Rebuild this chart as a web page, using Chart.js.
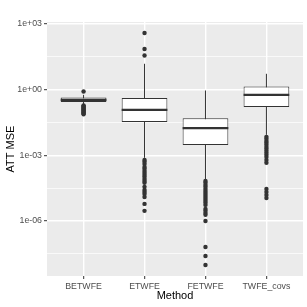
<!DOCTYPE html>
<html>
<head>
<meta charset="utf-8">
<script src="https://cdn.jsdelivr.net/npm/chart.js@4.4.0/dist/chart.umd.min.js"></script>
<style>
  html, body { margin: 0; padding: 0; background: #fff; }
  #wrap { width: 307px; height: 307px; }
</style>
</head>
<body>
<div id="wrap"><canvas id="boxChart" width="307" height="307"></canvas></div>
<script>
// ===== DATA =====
const methods = ['BETWFE', 'ETWFE', 'FETWFE', 'TWFE_covs'];
const q1 = [0.265, 0.0324, 0.00296, 0.157];
const medians = [0.337, 0.118, 0.0171, 0.571];
const q3 = [0.43, 0.404, 0.0491, 1.37];
const whiskerLow = [0.21, 7.6e-4, 7.5e-5, 8.5e-3];
const whiskerHigh = [0.571, 14.9, 0.90, 5.2];

const outliersBETWFE = [0.81, 0.189, 0.170, 0.153, 0.138, 0.124, 0.112, 0.101, 0.0906, 0.0815, 0.0735];
const outliersETWFE = [376, 69.8, 35.5, 6.1e-4, 5.0e-4, 4.0e-4, 2.9e-4, 2.4e-4, 1.9e-4, 1.56e-4,
    1.26e-4, 1.03e-4, 8.3e-5, 6.7e-5, 5.5e-5, 3.6e-5, 2.6e-5, 2.1e-5, 1.7e-5, 1.25e-5, 6.0e-6, 2.9e-6];
const outliersFETWFE = [6.7e-5, 5.5e-5, 4.4e-5, 3.6e-5, 2.9e-5, 2.3e-5, 1.9e-5, 1.54e-5, 1.25e-5,
    1.01e-5, 8.2e-6, 6.7e-6, 5.4e-6, 3.5e-6, 2.9e-6, 2.3e-6, 1.9e-6, 1.0e-6, 6.5e-8, 2.5e-8, 9.8e-9];
const outliersTWFEcovs = [6.9e-3, 5.6e-3, 4.5e-3, 3.7e-3, 3.0e-3, 2.4e-3, 1.95e-3, 1.58e-3, 1.28e-3,
    1.04e-3, 8.4e-4, 6.1e-4, 4.5e-4, 2.9e-5, 2.1e-5, 1.54e-5, 1.12e-5];
const outliers = [outliersBETWFE, outliersETWFE, outliersFETWFE, outliersTWFEcovs];

const yMajorTicks = [1e-6, 1e-3, 1, 1e3];
const yTickLabels = ['1e-06', '1e-03', '1e+00', '1e+03'];
const yMinorTicks = [3.162e-8, 3.162e-5, 0.03162, 31.62];
const yMin = 3.08e-9, yMax = 1.2e3;

// ===== STYLE =====
const dark = '#333333';
const boxWidth = 0.75;
const isMajor = v => yMajorTicks.some(m => Math.abs(Math.log10(m) - Math.log10(v)) < 1e-6);

const panelBg = {
    id: 'panelBg',
    beforeDraw(chart) {
        const { ctx, chartArea: a } = chart;
        ctx.save();
        ctx.fillStyle = '#fff';
        ctx.fillRect(0, 0, chart.width, chart.height);
        ctx.fillStyle = '#EBEBEB';
        ctx.fillRect(a.left, a.top, a.right - a.left, a.bottom - a.top);
        ctx.restore();
    }
};

const whiskerSets = methods.map((m, i) => ({
    type: 'line',
    data: [{ x: i + 1, y: whiskerLow[i] }, { x: i + 1, y: whiskerHigh[i] }],
    borderColor: dark,
    borderWidth: 1,
    pointRadius: 0,
    order: 3
}));

new Chart(document.getElementById('boxChart'), {
    type: 'bar',
    data: {
        datasets: [
            {
                type: 'scatter',
                data: outliers.flatMap((list, i) => list.map(v => ({ x: i + 1, y: v }))),
                backgroundColor: dark,
                borderWidth: 0,
                pointRadius: 2.2,
                order: 0
            },
            {
                type: 'scatter',
                data: medians.map((v, i) => ({ x: i + 1, y: v })),
                pointStyle: 'line',
                pointRadius: ctx => {
                    const xs = ctx.chart.scales.x;
                    return xs.getPixelForValue(1 + boxWidth / 2) - xs.getPixelForValue(1);
                },
                borderColor: dark,
                borderWidth: 2.2,
                order: 1
            },
            {
                type: 'bar',
                data: methods.map((m, i) => ({ x: i + 1, y: [q1[i], q3[i]] })),
                backgroundColor: '#FFFFFF',
                borderColor: dark,
                borderWidth: 1,
                borderSkipped: false,
                categoryPercentage: 1,
                barPercentage: boxWidth,
                order: 2
            },
            ...whiskerSets
        ]
    },
    options: {
        responsive: false,
        animation: false,
        layout: { padding: { left: 0, top: 22, right: 4, bottom: 0 } },
        plugins: {
            legend: { display: false },
            tooltip: { enabled: false }
        },
        scales: {
            x: {
                type: 'linear',
                min: 0.4, max: 4.6,
                offset: false,
                afterFit: s => { s.height = 31; },
                afterBuildTicks: s => { s.ticks = methods.map((m, i) => ({ value: i + 1 })); },
                grid: { offset: false, color: '#FFFFFF', lineWidth: 1.4, tickLength: 3, tickColor: dark, tickWidth: 1 },
                border: { display: false },
                ticks: {
                    autoSkip: false, maxRotation: 0, padding: 2,
                    color: '#4D4D4D',
                    font: { family: 'Liberation Sans', size: 8.8 },
                    callback: v => methods[v - 1]
                },
                title: {
                    display: true, text: 'Method', color: '#000',
                    font: { family: 'Liberation Sans', size: 11 },
                    padding: { top: 4, bottom: 4 }
                }
            },
            y: {
                type: 'logarithmic',
                min: yMin, max: yMax,
                afterFit: s => { s.width = 47; },
                afterBuildTicks: s => {
                    s.ticks = yMinorTicks.concat(yMajorTicks).sort((a, b) => a - b).map(v => ({ value: v }));
                },
                grid: {
                    color: '#FFFFFF',
                    lineWidth: c => (c.tick && isMajor(c.tick.value)) ? 1.4 : 0.7,
                    tickLength: 3,
                    tickWidth: 1,
                    tickColor: c => (c.tick && isMajor(c.tick.value)) ? dark : 'rgba(0,0,0,0)'
                },
                border: { display: false },
                ticks: {
                    autoSkip: false, padding: 2,
                    color: '#4D4D4D',
                    font: { family: 'Liberation Sans', size: 8.8 },
                    callback: v => {
                        const k = yMajorTicks.findIndex(m => Math.abs(Math.log10(m) - Math.log10(v)) < 1e-6);
                        return k >= 0 ? yTickLabels[k] : '';
                    }
                },
                title: {
                    display: true, text: 'ATT MSE', color: '#000',
                    font: { family: 'Liberation Sans', size: 11 },
                    padding: { top: 4, bottom: 4 }
                }
            }
        }
    },
    plugins: [panelBg]
});
</script>
</body>
</html>
